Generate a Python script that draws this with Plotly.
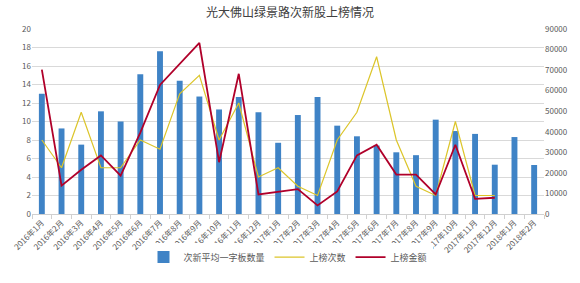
import plotly.graph_objects as go

months = ["2016年1月","2016年2月","2016年3月","2016年4月","2016年5月","2016年6月","2016年7月",
          "2016年8月","2016年9月","2016年10月","2016年11月","2016年12月","2017年1月","2017年2月",
          "2017年3月","2017年4月","2017年5月","2017年6月","2017年7月","2017年8月","2017年9月",
          "2017年10月","2017年11月","2017年12月","2018年1月","2018年2月"]

avg_limit_up = [13.0, 9.25, 7.5, 11.1, 10.0, 15.1, 17.6, 14.4, 12.7, 11.3, 12.65, 11.0, 7.7,
                10.7, 12.65, 9.55, 8.4, 7.4, 6.67, 6.36, 10.2, 8.97, 8.66, 5.33, 8.32, 5.3]

list_count = [8, 5, 11, 5, 5, 8, 7, 13, 15, 8, 12, 4, 5, 3, 2, 8, 11, 17, 8, 3, 2, 10, 2, 2,
              None, None]

list_amount = [70200, 13800, 21500, 28500, 18700, 39600, 62800, 73000, 83200, 25200, 68200,
               9500, 10700, 12100, 4200, 11000, 28500, 33700, 19200, 19200, 9500, 33700, 7400,
               7900, None, None]

font_cjk = "Noto Sans CJK SC, Noto Sans, sans-serif"

fig = go.Figure()
fig.add_trace(go.Bar(x=months, y=avg_limit_up, name="次新平均一字板数量",
                     marker=dict(color="#3f83c6", line=dict(width=0)), yaxis="y"))
fig.add_trace(go.Scatter(x=months, y=list_count, name="上榜次数", mode="lines",
                         line=dict(color="#dcc52a", width=1.2), yaxis="y"))
fig.add_trace(go.Scatter(x=months, y=list_amount, name="上榜金额", mode="lines",
                         line=dict(color="#b0002a", width=1.8), yaxis="y2"))

fig.update_layout(
    width=580, height=283,
    margin=dict(l=20, r=32, t=29, b=59),
    paper_bgcolor="white", plot_bgcolor="white",
    font=dict(family=font_cjk, color="#595959", size=8),
    title=dict(text="光大佛山绿景路次新股上榜情况", x=0.5, xanchor="center", y=0.955, yanchor="middle",
               font=dict(size=12, color="#404040")),
    bargap=0.7,
    showlegend=True,
    legend=dict(orientation="h", x=0.5, xanchor="center", y=-0.233, yanchor="middle",
                font=dict(size=9, color="#595959"), itemwidth=30, tracegroupgap=0),
    xaxis=dict(type="category", tickangle=-45, tickfont=dict(size=8), showgrid=False,
               showline=True, linecolor="#d0d0d0", ticks="outside", tickson="boundaries",
               ticklen=4, tickcolor="#d0d0d0"),
    yaxis=dict(range=[0, 20], dtick=2, showgrid=True, gridcolor="#d9d9d9", zeroline=False,
               tickfont=dict(size=8), showline=False),
    yaxis2=dict(range=[0, 90000], dtick=10000, overlaying="y", side="right", showgrid=False,
                zeroline=False, tickfont=dict(size=8), showline=False, tickformat="d"),
)

fig.write_html("out.html")
